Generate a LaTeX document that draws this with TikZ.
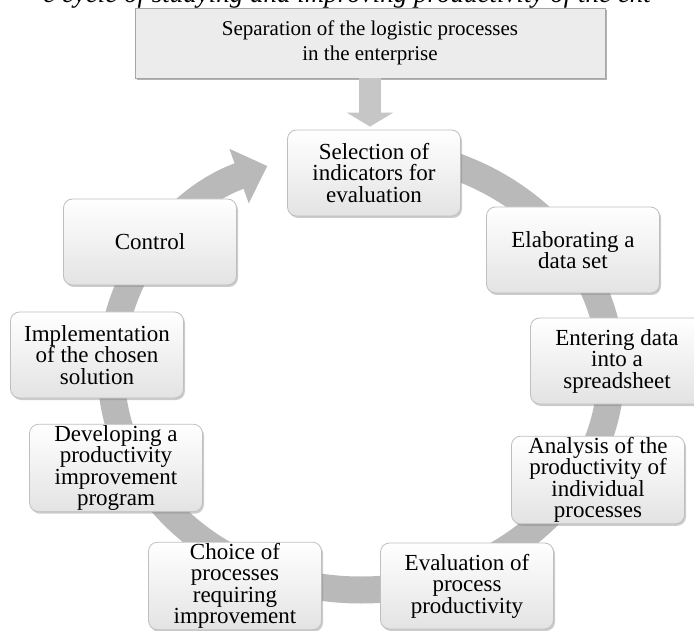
\documentclass[tikz,border=0pt]{standalone}
\usepackage{fontspec}
\setmainfont{Liberation Serif}
\usetikzlibrary{arrows.meta,shadows}

\begin{document}
\begin{tikzpicture}[x=1pt,y=-1pt,
	stage/.style={rectangle, rounded corners=9pt, draw=gray!50, line width=0.8pt,
		top color=white, bottom color=gray!22,
		drop shadow={opacity=0.4, shadow xshift=1.5pt, shadow yshift=-2pt},
		minimum width=173pt, minimum height=86pt, inner sep=1pt, align=center,
		font=\fontsize{23}{21.5}\selectfont},
	topbox/.style={rectangle, fill=gray!15, draw=gray!70, line width=0.8pt,
		drop shadow={opacity=0.6, shadow xshift=2pt, shadow yshift=-2.5pt},
		minimum width=470pt, minimum height=70pt, align=center,
		font=\fontsize{21}{25}\selectfont},
	ringarrow/.style={line width=27pt, draw=gray!55, -{Triangle[width=56pt,length=30pt]}},
	downarrow/.style={line width=22pt, draw=gray!45, -{Triangle[width=46pt,length=14pt]}}]
	\useasboundingbox (0,0) rectangle (694,631);
	\clip (0,0) rectangle (694,631);
	% caption line cut off at the top
	\node[anchor=base, inner sep=0pt, font=\fontsize{27}{27}\selectfont\itshape] at (347,3) (title){e cycle of studying and improving productivity of the ent};
	% the cycle
	\coordinate (ringc) at (361,370);
	\draw[ringarrow] (ringc) ++(-90:250 and 220) arc[start angle=-90, end angle=248, x radius=250, y radius=220];
	\node[topbox] at (370,43) (sep){Separation of the logistic processes\\in the enterprise};
	\node[stage] at (374,173) (sel){Selection of\\indicators for\\evaluation};
	\node[stage] at (573,250) (elab){Elaborating a\\data set};
	\node[stage] at (617,361) (enter){Entering data\\into a\\spreadsheet};
	\node[stage] at (598,480) (anal){Analysis of the\\productivity of\\individual\\processes};
	\node[stage] at (467,586) (evalp){Evaluation of\\process\\productivity};
	\node[stage] at (235,586) (choice){Choice of\\processes\\requiring\\improvement};
	\node[stage] at (116,468) (dev){Developing a\\productivity\\improvement\\program};
	\node[stage] at (97,355) (impl){Implementation\\of the chosen\\solution};
	\node[stage] at (150,242) (ctrl){Control};
	\draw[downarrow, shorten >=3pt] (sep.south) -- (sep.south |- sel.north);
\end{tikzpicture}
\end{document}
